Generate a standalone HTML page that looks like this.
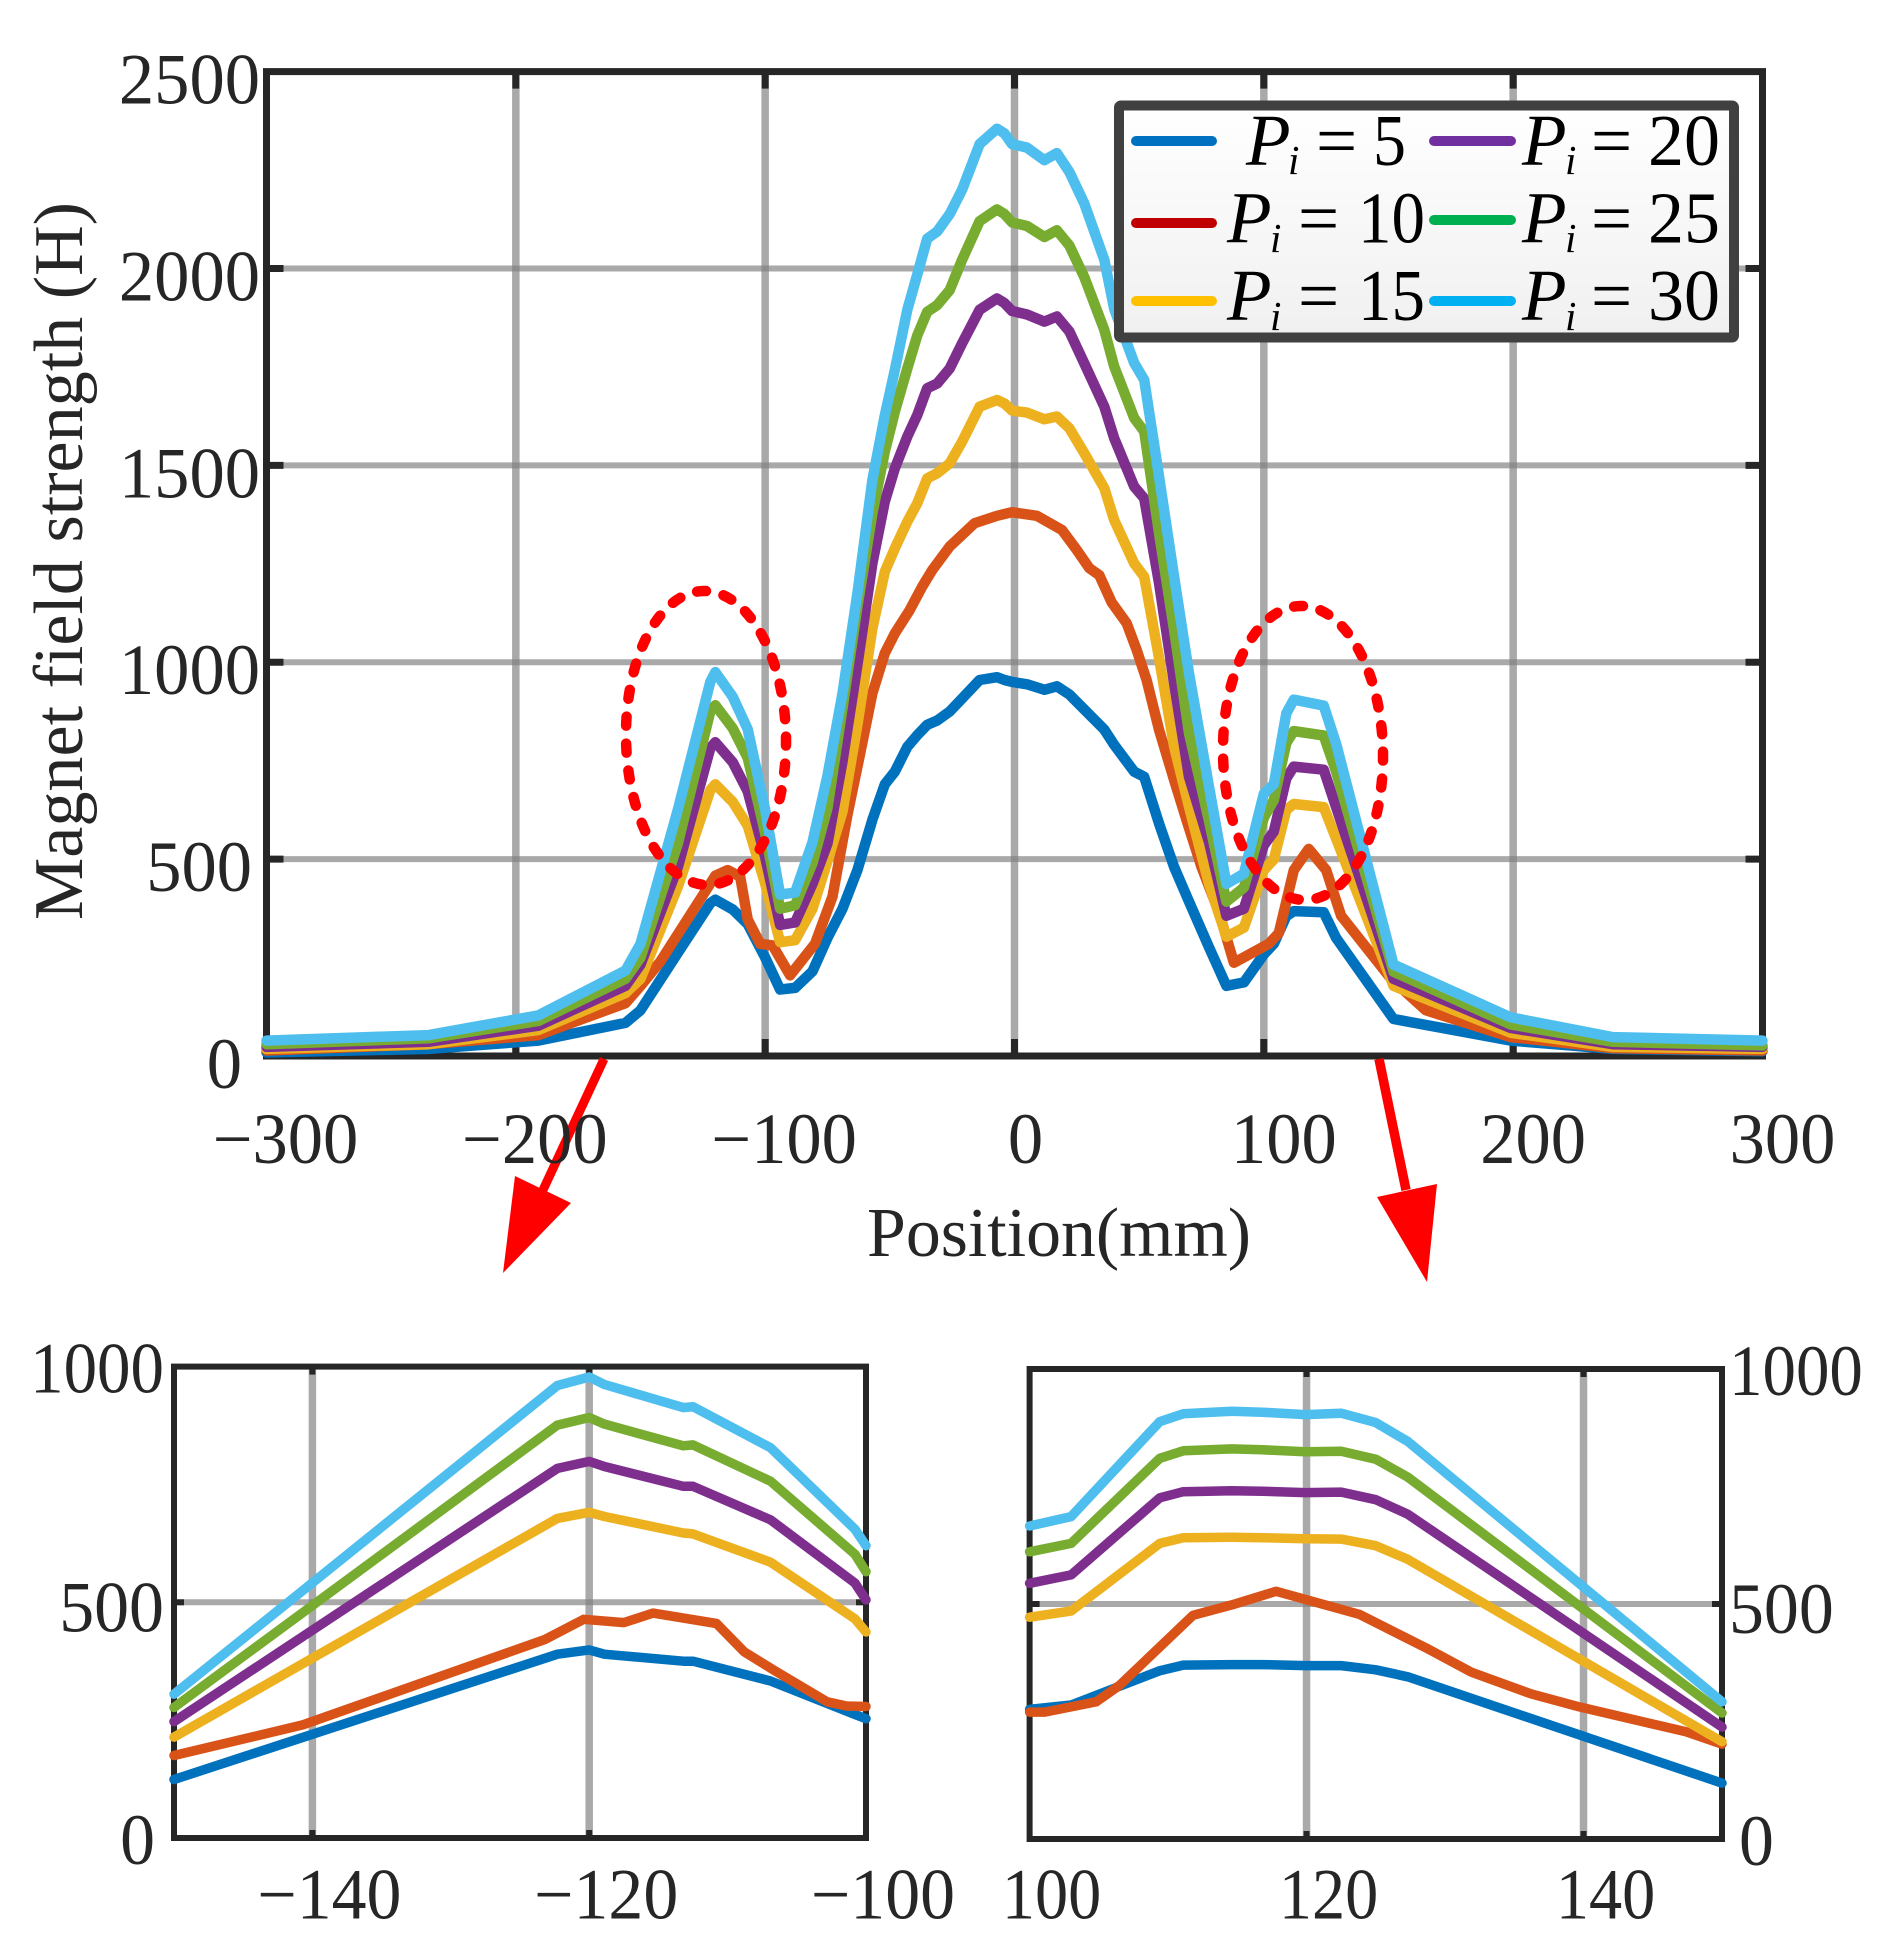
<!DOCTYPE html>
<html lang="en">
<head>
<meta charset="utf-8">
<title>Magnet field strength vs position</title>
<style>
html,body{margin:0;padding:0;background:#fff;}
svg{display:block;}
text{font-family:"Liberation Serif","DejaVu Serif",serif;}
</style>
</head>
<body>
<svg id="figure" xmlns="http://www.w3.org/2000/svg" width="1896" height="1953" viewBox="0 0 1896 1953">
  <defs>
    <linearGradient id="legend-bg" x1="0" y1="0" x2="0" y2="1">
      <stop offset="0" stop-color="#ffffff"/>
      <stop offset="1" stop-color="#f0f0f0"/>
    </linearGradient>
  </defs>
  <rect x="0" y="0" width="1896" height="1953" fill="#ffffff"/>
  <g id="main-chart"></g>
  <g id="left-inset"></g>
  <g id="right-inset"></g>

  <g>
    <rect x="1119" y="105.5" width="615" height="232" rx="2" fill="url(#legend-bg)" stroke="#404040" stroke-width="10"/>
    <g stroke-width="10" stroke-linecap="round" fill="none">
      <line x1="1136" y1="141" x2="1212" y2="141" stroke="#0070C0"/>
      <line x1="1136" y1="223" x2="1212" y2="223" stroke="#C00000"/>
      <line x1="1136" y1="301" x2="1212" y2="301" stroke="#FFC000"/>
      <line x1="1434" y1="141" x2="1511" y2="141" stroke="#7030A0"/>
      <line x1="1434" y1="220" x2="1511" y2="220" stroke="#00B050"/>
      <line x1="1434" y1="301" x2="1511" y2="301" stroke="#00B0F0"/>
    </g>
    <g fill="#000" font-size="73">
      <g>
        <text x="1246" y="165" font-style="italic">P</text><text x="1288" y="174" font-style="italic" font-size="41">i</text><text x="1316" y="165">=</text><text x="1373" y="165" textLength="33" lengthAdjust="spacingAndGlyphs">5</text>
      </g>
      <g>
        <text x="1227" y="242.5" font-style="italic">P</text><text x="1270" y="252" font-style="italic" font-size="41">i</text><text x="1298" y="242.5">=</text><text x="1358" y="242.5" textLength="67" lengthAdjust="spacingAndGlyphs">10</text>
      </g>
      <g>
        <text x="1227" y="320" font-style="italic">P</text><text x="1270" y="330" font-style="italic" font-size="41">i</text><text x="1298" y="320">=</text><text x="1358" y="320" textLength="67" lengthAdjust="spacingAndGlyphs">15</text>
      </g>
      <g>
        <text x="1522" y="165" font-style="italic">P</text><text x="1565" y="174" font-style="italic" font-size="41">i</text><text x="1591" y="165">=</text><text x="1648" y="165" textLength="72" lengthAdjust="spacingAndGlyphs">20</text>
      </g>
      <g>
        <text x="1522" y="242.5" font-style="italic">P</text><text x="1565" y="252" font-style="italic" font-size="41">i</text><text x="1591" y="242.5">=</text><text x="1648" y="242.5" textLength="72" lengthAdjust="spacingAndGlyphs">25</text>
      </g>
      <g>
        <text x="1522" y="320" font-style="italic">P</text><text x="1565" y="330" font-style="italic" font-size="41">i</text><text x="1591" y="320">=</text><text x="1648" y="320" textLength="72" lengthAdjust="spacingAndGlyphs">30</text>
      </g>
    </g>
  </g>

  <g fill="#ff0000">
    <ellipse cx="706" cy="738" rx="80" ry="147" transform="rotate(-1 706 738)" fill="none" stroke="#ff0000" stroke-width="10.5" stroke-linecap="round" stroke-dasharray="9 18"/>
    <ellipse cx="1303" cy="753" rx="80" ry="147" transform="rotate(-1 1303 753)" fill="none" stroke="#ff0000" stroke-width="10.5" stroke-linecap="round" stroke-dasharray="9 18"/>
    <line x1="604" y1="1059" x2="543" y2="1190" stroke="#ff0000" stroke-width="9"/>
    <polygon points="515,1176 571,1203 503,1273"/>
    <line x1="1379" y1="1059" x2="1406" y2="1190" stroke="#ff0000" stroke-width="9.5"/>
    <polygon points="1377,1197 1437,1184 1427,1282"/>
  </g>

  <g id="tick-labels" fill="#262626"></g>

  <text x="0" y="0" transform="translate(82 561) rotate(-90)" text-anchor="middle" font-size="70" fill="#262626" textLength="718" lengthAdjust="spacingAndGlyphs">Magnet field strength (H)</text>
  <text x="867" y="1256" font-size="70" fill="#262626" textLength="384" lengthAdjust="spacingAndGlyphs">Position(mm)</text>
</svg>

<script>
// ---------- Main chart data ----------
const mainXTicks = [-300, -200, -100, 0, 100, 200, 300];
const mainYTicks = [0, 500, 1000, 1500, 2000, 2500];
const mainPositions = [-300,-235,-191,-156,-150,-135,-122,-120,-113,-107,-100,-94,-88,-81,-75,-69,-63,-57,-52,-48,-43,-39,-35,-31,-26,-21,-14,-7,-4,-1,5,12,17,22,28,36,40,48,52,58,64,70,78,85,92,100,104,109,112,124,129,152,199,240,300];
const mainP5 = [9,18,39,84,116,262,388,397,372,335,250,169,173,215,300,374,472,600,690,722,785,815,841,852,875,908,955,962,955,950,944,930,939,918,880,829,790,722,709,590,480,392,276,178,187,258,285,355,368,365,300,94,39,18,12];
const mainP10Positions = [-300,-235,-191,-156,-150,-142,-120,-115,-110,-107,-102,-97,-90,-80,-73,-67,-62,-57,-52,-48,-42,-37,-33,-26,-16,-7,-1,9,19,25,30,34,39,45,49,53,58,64,69,75,82,88,102,106,112,118,125,131,151,165,199,240,300];
const mainP10 = [14,30,53,134,178,240,458,472,455,347,285,281,205,285,405,612,765,921,1023,1073,1133,1192,1234,1294,1353,1372,1381,1372,1336,1285,1239,1221,1152,1099,1031,955,828,701,599,480,365,237,285,312,472,526,472,356,196,116,48,20,14];
const mainP15 = [18,30,66,160,196,430,675,690,645,585,437,289,294,374,495,621,841,1086,1230,1289,1357,1404,1467,1480,1505,1560,1649,1666,1657,1639,1634,1617,1624,1594,1531,1442,1361,1251,1217,1010,786,633,437,303,326,472,499,625,640,632,552,178,59,23,18];
const mainP20 = [23,36,77,178,232,480,782,797,746,672,505,333,339,437,540,748,993,1251,1408,1492,1573,1628,1696,1708,1746,1810,1895,1924,1912,1892,1883,1865,1878,1840,1759,1649,1569,1446,1416,1200,946,709,543,356,374,535,570,705,735,727,632,196,71,30,23];
const mainP25 = [30,45,89,196,250,540,875,891,832,757,565,374,383,490,630,883,1141,1378,1535,1636,1746,1830,1890,1907,1945,2022,2120,2150,2138,2117,2108,2080,2097,2058,1978,1844,1751,1620,1586,1327,1082,820,597,392,428,605,650,795,825,814,722,214,80,36,27];
const mainP30 = [39,53,103,217,285,626,950,975,912,830,625,410,415,543,712,921,1175,1463,1627,1742,1895,1985,2076,2094,2138,2200,2316,2355,2343,2316,2307,2275,2293,2245,2165,2022,1897,1760,1717,1471,1217,972,684,437,463,666,690,870,905,890,793,232,98,48,39];

// ---------- Left inset data ----------
const leftXTicks = [-140, -120, -100];
const leftYTicks = [0, 500, 1000];
const leftPositions = [-150,-122.3,-120,-118.9,-113.2,-112.5,-106.9,-100.8,-100];
const leftP5 = [124,390,399,390,375,375,333,262,253];
const leftP10Positions = [-150,-140.7,-123.2,-120.4,-117.5,-115.4,-110.8,-108.8,-106.6,-102.8,-101.4,-100];
const leftP10 = [175,240,421,464,457,477,455,395,355,289,280,279];
const leftP15 = [214,678,691,682,647,645,585,465,437];
const leftP20 = [247,784,799,788,746,746,675,541,505];
const leftP25 = [277,876,892,878,832,834,757,602,565];
const leftP30 = [305,960,978,962,913,915,828,655,620];

// ---------- Right inset data ----------
const rightXTicks = [100, 120, 140];
const rightYTicks = [0, 500, 1000];
const rightPositions = [100,103,109.4,111.1,114.6,116.8,119.9,122.5,125,127.3,150];
const rightP5 = [276,285,358,370,371,371,369,369,360,345,119];
const rightP10Positions = [100,101.1,104.8,106.5,111.8,114.6,117.8,123.8,128.6,131.9,136.2,139.7,147.4,150];
const rightP10 = [270,270,292,327,476,498,527,478,407,355,309,281,228,202];
const rightP15 = [472,485,629,641,642,641,639,638,624,595,207];
const rightP20 = [544,562,726,739,741,740,737,738,722,691,238];
const rightP25 = [611,629,810,826,830,828,824,825,808,770,268];
const rightP30 = [666,686,888,905,910,908,903,906,886,846,292];

const seriesNames = ['p5', 'p10', 'p15', 'p20', 'p25', 'p30'];
const seriesColors = ['#0072BD', '#D95319', '#EDB120', '#7E2F8E', '#77AC30', '#4DBEEE'];

const SVG_NS = 'http://www.w3.org/2000/svg';

function linearScale(d0, d1, r0, r1) {
  return function (v) { return r0 + (v - d0) * (r1 - r0) / (d1 - d0); };
}

function addLine(parent, x1, y1, x2, y2, color, width, opacity, name) {
  const el = document.createElementNS(SVG_NS, 'line');
  el.setAttribute('x1', x1);
  el.setAttribute('y1', y1);
  el.setAttribute('x2', x2);
  el.setAttribute('y2', y2);
  el.setAttribute('stroke', color);
  el.setAttribute('stroke-width', width);
  if (opacity < 1) el.setAttribute('stroke-opacity', opacity);
  
  
  parent.appendChild(el);
}

function addSeries(parent, xs, ys, sx, sy, color, width, name) {
  const el = document.createElementNS(SVG_NS, 'polyline');
  const pts = xs.map(function (x, i) { return sx(x).toFixed(1) + ',' + sy(ys[i]).toFixed(1); });
  el.setAttribute('points', pts.join(' '));
  el.setAttribute('fill', 'none');
  el.setAttribute('stroke', color);
  el.setAttribute('stroke-width', width);
  el.setAttribute('stroke-linejoin', 'round');
  el.setAttribute('stroke-linecap', 'round');
  
  
  parent.appendChild(el);
}

function addLabel(value, x, y, anchor, fontSize, squeeze, name) {
  const text = value < 0 ? '\u2212' + Math.abs(value) : String(value);
  const digits = String(Math.abs(value)).length;
  const len = fontSize * (0.5 * digits + (value < 0 ? 0.564 : 0)) * squeeze;
  const el = document.createElementNS(SVG_NS, 'text');
  el.setAttribute('x', x);
  el.setAttribute('y', y);
  el.setAttribute('text-anchor', anchor);
  el.setAttribute('font-size', fontSize);
  el.setAttribute('textLength', len.toFixed(1));
  el.setAttribute('lengthAdjust', 'spacingAndGlyphs');
  
  
  el.textContent = text;
  document.getElementById('tick-labels').appendChild(el);
}

function drawPanel(group, prefix, box, xDomain, yDomain, xTicks, yTicks, opts, seriesX, seriesY) {
  const sx = linearScale(xDomain[0], xDomain[1], box.left, box.right);
  const sy = linearScale(yDomain[0], yDomain[1], box.bottom, box.top);
  xTicks.forEach(function (t) {
    if (t > xDomain[0] && t < xDomain[1]) {
      addLine(group, sx(t), box.top, sx(t), box.bottom, '#808080', opts.gridV, 0.68, prefix + '-grid-x-' + t);
    }
  });
  yTicks.forEach(function (t) {
    if (t > yDomain[0] && t < yDomain[1]) {
      addLine(group, box.left, sy(t), box.right, sy(t), '#808080', opts.gridH, 0.68, prefix + '-grid-y-' + t);
    }
  });
  xTicks.forEach(function (t) {
    if (t > xDomain[0] && t < xDomain[1]) {
      addLine(group, sx(t), box.top, sx(t), box.top + opts.tickV, '#262626', opts.frame, 1, prefix + '-tick-top-' + t);
      addLine(group, sx(t), box.bottom, sx(t), box.bottom - opts.tickV, '#262626', opts.frame, 1, prefix + '-tick-bottom-' + t);
    }
  });
  yTicks.forEach(function (t) {
    if (t > yDomain[0] && t < yDomain[1]) {
      addLine(group, box.left, sy(t), box.left + opts.tickH, sy(t), '#262626', opts.frame, 1, prefix + '-tick-left-' + t);
      addLine(group, box.right, sy(t), box.right - opts.tickH, sy(t), '#262626', opts.frame, 1, prefix + '-tick-right-' + t);
    }
  });
  const frame = document.createElementNS(SVG_NS, 'rect');
  frame.setAttribute('x', box.left);
  frame.setAttribute('y', box.top);
  frame.setAttribute('width', box.right - box.left);
  frame.setAttribute('height', box.bottom - box.top);
  frame.setAttribute('fill', 'none');
  frame.setAttribute('stroke', '#262626');
  frame.setAttribute('stroke-width', opts.frame);
  
  
  group.appendChild(frame);
  seriesNames.forEach(function (s, i) {
    addSeries(group, seriesX[i], seriesY[i], sx, sy, seriesColors[i], opts.line, prefix + '-series-' + s);
  });
  return { sx: sx, sy: sy };
}

// ---------- Main panel ----------
const mainBox = { left: 266.5, right: 1762.5, top: 71.6, bottom: 1056 };
const mainScales = drawPanel(
  document.getElementById('main-chart'), 'main', mainBox, [-300, 300], [0, 2500],
  mainXTicks, mainYTicks,
  { gridV: 7.5, gridH: 6, frame: 7, tickV: 17, tickH: 17, line: 10.5 },
  [mainPositions, mainP10Positions, mainPositions, mainPositions, mainPositions, mainPositions],
  [mainP5, mainP10, mainP15, mainP20, mainP25, mainP30]
);
mainXTicks.forEach(function (t) {
  const dx = t < 0 ? 19 : (t === 0 ? 11 : 20);
  addLabel(t, mainScales.sx(t) + dx, 1163, 'middle', 72, 0.98, 'main-x-label-' + t);
});
mainYTicks.forEach(function (t) {
  const len = String(t).length;
  const end = len === 4 ? 260 : (len === 3 ? 252 : 242);
  addLabel(t, end, mainScales.sy(t) + 32, 'end', 72, 0.98, 'main-y-label-' + t);
});

// ---------- Left inset ----------
const leftBox = { left: 174, right: 866, top: 1366.6, bottom: 1838 };
const leftScales = drawPanel(
  document.getElementById('left-inset'), 'left-inset', leftBox, [-150, -100], [0, 1000],
  leftXTicks, leftYTicks,
  { gridV: 7.5, gridH: 6, frame: 6, tickV: 8, tickH: 10, line: 9.5 },
  [leftPositions, leftP10Positions, leftPositions, leftPositions, leftPositions, leftPositions],
  [leftP5, leftP10, leftP15, leftP20, leftP25, leftP30]
);
leftXTicks.forEach(function (t) {
  addLabel(t, leftScales.sx(t) + 17, 1918.5, 'middle', 72, 0.97, 'left-inset-x-label-' + t);
});
leftYTicks.forEach(function (t) {
  const len = String(t).length;
  const end = len === 4 ? 164 : (len === 3 ? 164 : 155);
  addLabel(t, end, leftScales.sy(t) + (t === 500 ? 29 : 26), 'end', 72, len === 4 ? 0.93 : 0.97, 'left-inset-y-label-' + t);
});

// ---------- Right inset ----------
const rightBox = { left: 1029.6, right: 1722, top: 1369, bottom: 1839 };
const rightScales = drawPanel(
  document.getElementById('right-inset'), 'right-inset', rightBox, [100, 150], [0, 1000],
  rightXTicks, rightYTicks,
  { gridV: 7.5, gridH: 6, frame: 6, tickV: 8, tickH: 10, line: 9.5 },
  [rightPositions, rightP10Positions, rightPositions, rightPositions, rightPositions, rightPositions],
  [rightP5, rightP10, rightP15, rightP20, rightP25, rightP30]
);
rightXTicks.forEach(function (t) {
  addLabel(t, rightScales.sx(t) + 22, 1918.5, 'middle', 72, 0.92, 'right-inset-x-label-' + t);
});
rightYTicks.forEach(function (t) {
  const len = String(t).length;
  const start = len === 1 ? 1739 : 1729;
  addLabel(t, start, rightScales.sy(t) + (t === 500 ? 29 : 26), 'start', 72, len === 4 ? 0.93 : 0.97, 'right-inset-y-label-' + t);
});
</script>
</body>
</html>
